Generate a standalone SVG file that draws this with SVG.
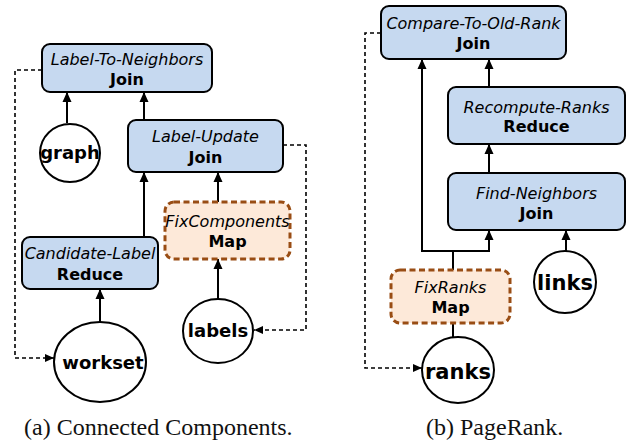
<svg xmlns="http://www.w3.org/2000/svg" width="639" height="441" viewBox="0 0 639 441">
<defs>
<marker id="ah" markerUnits="userSpaceOnUse" markerWidth="10" markerHeight="10" refX="10" refY="5" orient="auto">
<path d="M0,0.5 L10,5 L0,9.5 z" fill="#000"/>
</marker>
<marker id="ahd" markerUnits="userSpaceOnUse" markerWidth="9" markerHeight="9" refX="9" refY="4" orient="auto">
<path d="M0,0 L9,4 L0,8 z" fill="#000"/>
</marker>
<style>
.op{fill:#c6d9f0;stroke:#000;stroke-width:2}
.fix{fill:#fde9d9;stroke:#994d14;stroke-width:3;stroke-dasharray:6 3.5}
.ds{fill:#fff;stroke:#000;stroke-width:2}
.nm{font-family:"DejaVu Sans",Verdana,sans-serif;font-style:italic;font-size:16px;text-anchor:middle;fill:#000}
.ty{font-family:"DejaVu Sans",Verdana,sans-serif;font-weight:bold;font-size:16px;text-anchor:middle;fill:#000}
.dn{font-family:"DejaVu Sans",Verdana,sans-serif;font-weight:bold;font-size:18px;text-anchor:middle;fill:#000}
.dl{font-family:"DejaVu Sans",Verdana,sans-serif;font-weight:bold;font-size:21px;text-anchor:middle;fill:#000}
.cap{font-family:"Liberation Serif","Times New Roman",serif;font-size:24px;fill:#111}
.e{fill:none;stroke:#000;stroke-width:2;marker-end:url(#ah)}
.l{fill:none;stroke:#000;stroke-width:2}
.d{fill:none;stroke:#000;stroke-width:1.6;stroke-dasharray:4 3;marker-end:url(#ahd)}
</style>
</defs>

<g id="connectors">
<path class="e" d="M67,123 V92"/>
<path class="e" d="M144,120 V92"/>
<path class="e" d="M144,237 V172"/>
<path class="e" d="M218,202 V172"/>
<path class="e" d="M100,322 V289"/>
<path class="e" d="M218,299 V259"/>
<path class="d" d="M42,70 H15 V358 H54"/>
<path class="d" d="M283,145 H306 V330 H254"/>
<path class="e" d="M489,87 V59"/>
<path class="e" d="M489,173 V144"/>
<path class="e" d="M453,270 V251 H422 V59"/>
<path class="e" d="M453,251 H489 V230"/>
<path class="e" d="M566,251 V230"/>
<path class="l" d="M453,337 V323"/>
<path class="d" d="M381,33 H365 V368 H422"/>
</g>

<g id="label-to-neighbors">
<rect class="op" x="42" y="44" width="170" height="48" rx="8"/>
<text class="nm" x="127" y="65">Label-To-Neighbors</text>
<text class="ty" x="127" y="85">Join</text>
</g>
<g id="label-update">
<rect class="op" x="128" y="120" width="155" height="52" rx="8"/>
<text class="nm" x="205.5" y="142">Label-Update</text>
<text class="ty" x="205.5" y="163">Join</text>
</g>
<g id="candidate-label">
<rect class="op" x="22" y="237" width="136" height="52" rx="8"/>
<text class="nm" x="90" y="259">Candidate-Label</text>
<text class="ty" x="90" y="280">Reduce</text>
</g>
<g id="fixcomponents">
<rect class="fix" x="165" y="202" width="125" height="57" rx="9"/>
<text class="nm" x="227.5" y="227">FixComponents</text>
<text class="ty" x="227.5" y="247">Map</text>
</g>
<g id="graph">
<ellipse class="ds" cx="70" cy="153" rx="30" ry="29"/>
<text class="dn" x="70" y="159">graph</text>
</g>
<g id="workset">
<ellipse class="ds" cx="100" cy="362" rx="46" ry="40"/>
<text class="dn" x="103" y="369">workset</text>
</g>
<g id="labels">
<ellipse class="ds" cx="218" cy="331" rx="35" ry="32"/>
<text class="dn" x="218" y="337">labels</text>
</g>

<g id="compare-to-old-rank">
<rect class="op" x="381" y="6" width="185" height="53" rx="8"/>
<text class="nm" x="473.5" y="29">Compare-To-Old-Rank</text>
<text class="ty" x="473.5" y="49">Join</text>
</g>
<g id="recompute-ranks">
<rect class="op" x="448" y="87" width="177" height="57" rx="8"/>
<text class="nm" x="536.5" y="113">Recompute-Ranks</text>
<text class="ty" x="536.5" y="132">Reduce</text>
</g>
<g id="find-neighbors">
<rect class="op" x="448" y="173" width="177" height="57" rx="8"/>
<text class="nm" x="536.5" y="199">Find-Neighbors</text>
<text class="ty" x="536.5" y="219">Join</text>
</g>
<g id="fixranks">
<rect class="fix" x="391" y="270" width="119" height="53" rx="9"/>
<text class="nm" x="450.5" y="293">FixRanks</text>
<text class="ty" x="450.5" y="313">Map</text>
</g>
<g id="links">
<ellipse class="ds" cx="565" cy="282" rx="31" ry="31"/>
<text class="dl" x="565" y="290">links</text>
</g>
<g id="ranks">
<ellipse class="ds" cx="458" cy="370" rx="36" ry="33"/>
<text class="dl" x="458" y="379">ranks</text>
</g>

<text class="cap" x="24" y="435">(a) Connected Components.</text>
<text class="cap" x="426" y="435">(b) PageRank.</text>
</svg>
